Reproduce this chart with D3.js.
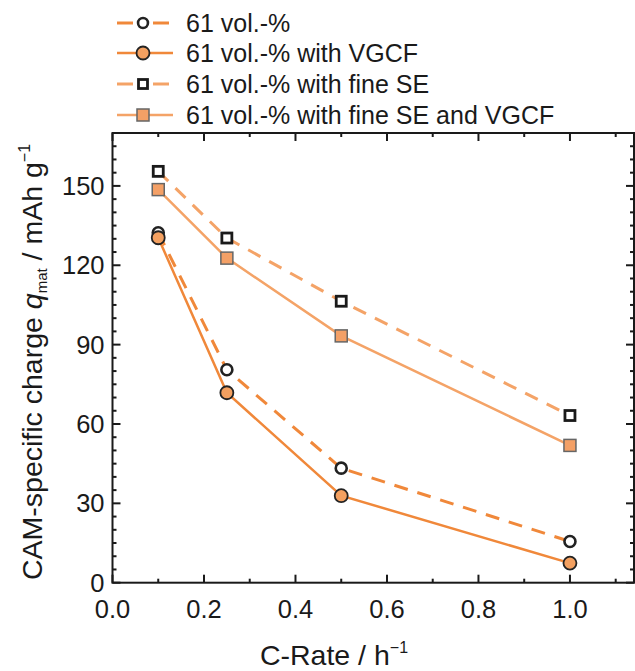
<!DOCTYPE html>
<html>
<head>
<meta charset="utf-8">
<script src="https://cdn.jsdelivr.net/npm/d3@7"></script>
<style>
  html, body { margin: 0; padding: 0; background: #fff; }
  svg { display: block; font-family: "Liberation Sans", Arial, sans-serif; }
</style>
</head>
<body>
<svg id="chart" width="635" height="671"></svg>
<script>
// C-rates and CAM-specific charge for each electrode composition
const cRates = [0.1, 0.25, 0.5, 1.0];
const seriesNames = [
  "61 vol.-%",
  "61 vol.-% with VGCF",
  "61 vol.-% with fine SE",
  "61 vol.-% with fine SE and VGCF"
];
const plain       = [132.3, 80.5, 43.3, 15.6];
const withVGCF    = [130.4, 71.8, 32.9, 7.4];
const fineSE      = [155.5, 130.3, 106.4, 63.2];
const fineSEVGCF  = [148.6, 122.7, 93.3, 51.9];
const xTicks = [0.0, 0.2, 0.4, 0.6, 0.8, 1.0];
const yTicks = [0, 30, 60, 90, 120, 150];

const series = [
  { name: seriesNames[0], values: plain,      shape: "circle", filled: false, dashed: true,  line: "#f0883a" },
  { name: seriesNames[1], values: withVGCF,   shape: "circle", filled: true,  dashed: false, line: "#f0883a" },
  { name: seriesNames[2], values: fineSE,     shape: "square", filled: false, dashed: true,  line: "#f4a367" },
  { name: seriesNames[3], values: fineSEVGCF, shape: "square", filled: true,  dashed: false, line: "#f4a367" }
];

const svg = d3.select("#chart");
const plotL = 112.5, plotR = 634, plotT = 133, plotB = 582.7;

const x = d3.scaleLinear().domain([0, 1.14]).range([plotL, plotR]);
const y = d3.scaleLinear().domain([0, 170]).range([plotB, plotT]);

// frame
svg.append("rect")
  .attr("x", plotL).attr("y", plotT)
  .attr("width", plotR - plotL).attr("height", plotB - plotT)
  .attr("fill", "none").attr("stroke", "#1a1a1a").attr("stroke-width", 2);

// inward ticks on all four sides
const g = svg.append("g").attr("stroke", "#1a1a1a").attr("stroke-width", 2);
const xMinor = d3.range(0.1, 1.14, 0.2);
const yMinor = d3.range(5, 170, 5).filter(v => v % 30 !== 0);

xTicks.forEach(v => {
  g.append("line").attr("x1", x(v)).attr("x2", x(v)).attr("y1", plotB).attr("y2", plotB - 8);
  g.append("line").attr("x1", x(v)).attr("x2", x(v)).attr("y1", plotT).attr("y2", plotT + 8);
});
xMinor.forEach(v => {
  g.append("line").attr("x1", x(v)).attr("x2", x(v)).attr("y1", plotB).attr("y2", plotB - 4);
  g.append("line").attr("x1", x(v)).attr("x2", x(v)).attr("y1", plotT).attr("y2", plotT + 4);
});
yTicks.forEach(v => {
  g.append("line").attr("x1", plotL).attr("x2", plotL + 8).attr("y1", y(v)).attr("y2", y(v));
  g.append("line").attr("x1", plotR).attr("x2", plotR - 8).attr("y1", y(v)).attr("y2", y(v));
});
yMinor.forEach(v => {
  g.append("line").attr("x1", plotL).attr("x2", plotL + 4).attr("y1", y(v)).attr("y2", y(v));
  g.append("line").attr("x1", plotR).attr("x2", plotR - 4).attr("y1", y(v)).attr("y2", y(v));
});

// tick labels
svg.append("g").selectAll("text").data(xTicks).join("text")
  .attr("x", d => x(d)).attr("y", plotB + 35)
  .attr("text-anchor", "middle").attr("font-size", 25.5).attr("fill", "#1a1a1a")
  .text(d => d3.format(".1f")(d));
svg.append("g").selectAll("text").data(yTicks).join("text")
  .attr("x", plotL - 8).attr("y", d => y(d) + 9)
  .attr("text-anchor", "end").attr("font-size", 25.5).attr("fill", "#1a1a1a")
  .text(d => d);

// axis titles
const xt = svg.append("text")
  .attr("x", 334).attr("y", 665).attr("text-anchor", "middle")
  .attr("font-size", 28.5).attr("fill", "#1a1a1a");
xt.append("tspan").text("C-Rate / h");
xt.append("tspan").attr("font-size", 16).attr("dy", -12).text("\u22121");

const yt = svg.append("text")
  .attr("transform", "translate(42,362) rotate(-90)")
  .attr("text-anchor", "middle").attr("font-size", 28.5).attr("fill", "#1a1a1a");
yt.append("tspan").text("CAM-specific charge ");
yt.append("tspan").attr("font-style", "italic").text("q");
yt.append("tspan").attr("font-size", 15).attr("dy", 5).text("mat");
yt.append("tspan").attr("dy", -5).text(" / mAh g");
yt.append("tspan").attr("font-size", 16).attr("dy", -12).text("\u22121");

// lines
const lineGen = d3.line().x((d, i) => x(cRates[i])).y(d => y(d));
series.forEach(s => {
  svg.append("path").datum(s.values)
    .attr("d", lineGen)
    .attr("fill", "none")
    .attr("stroke", s.line)
    .attr("stroke-width", s.dashed ? 3 : 2.5)
    .attr("stroke-dasharray", s.dashed ? "14,10" : null);
});

function drawMarker(sel, s, cx, cy, scale) {
  if (s.shape === "circle") {
    const r = s.filled ? 6.5 : 5.5;
    sel.append("circle").attr("cx", cx).attr("cy", cy).attr("r", r * scale)
      .attr("fill", s.filled ? "#f3a060" : "#fff")
      .attr("stroke", "#222").attr("stroke-width", s.filled ? 1.8 : 2.6);
  } else {
    const h = s.filled ? 12 : 10;
    sel.append("rect").attr("x", cx - h * scale / 2).attr("y", cy - h * scale / 2)
      .attr("width", h * scale).attr("height", h * scale)
      .attr("fill", s.filled ? "#f4a066" : "#fff")
      .attr("stroke", s.filled ? "#666" : "#1a1a1a").attr("stroke-width", s.filled ? 1.5 : 2.8);
  }
}

// markers (drawn after lines)
series.forEach(s => {
  const mg = svg.append("g");
  s.values.forEach((v, i) => drawMarker(mg, s, x(cRates[i]), y(v), 1));
});

// legend
const legendRows = [23, 53, 84, 115];
series.forEach((s, i) => {
  const ly = legendRows[i];
  const lg = svg.append("g");
  if (s.dashed) {
    lg.append("line").attr("x1", 117).attr("x2", 133).attr("y1", ly).attr("y2", ly)
      .attr("stroke", s.line).attr("stroke-width", 3);
    lg.append("line").attr("x1", 153).attr("x2", 169).attr("y1", ly).attr("y2", ly)
      .attr("stroke", s.line).attr("stroke-width", 3);
  } else {
    lg.append("line").attr("x1", 117).attr("x2", 173).attr("y1", ly).attr("y2", ly)
      .attr("stroke", s.line).attr("stroke-width", 2.5);
  }
  drawMarker(lg, s, 143, ly, s.filled ? 1 : 0.9);
  lg.append("text").attr("x", 186).attr("y", ly + 9)
    .attr("font-size", 25).attr("fill", "#1a1a1a").text(s.name);
});
</script>
</body>
</html>
